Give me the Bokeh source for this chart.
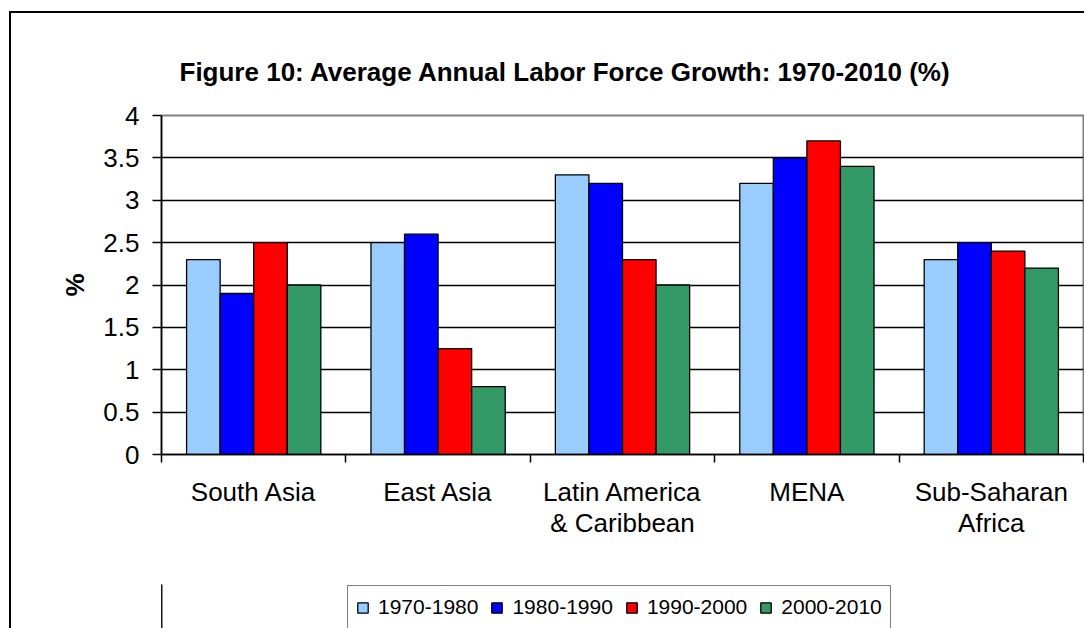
from bokeh.plotting import figure
from bokeh.layouts import column
from bokeh.models import (ColumnDataSource, Range1d, FixedTicker,
                          Legend, LegendItem, Title)
from bokeh.transform import dodge
from bokeh.embed import file_html
from bokeh.resources import INLINE

# ---------------- data ----------------
regions = ["South Asia", "East Asia", "Latin America\n& Caribbean", "MENA", "Sub-Saharan\nAfrica"]
periods = ["1970-1980", "1980-1990", "1990-2000", "2000-2010"]
v1970 = [2.3, 2.5, 3.3, 3.2, 2.3]
v1980 = [1.9, 2.6, 3.2, 3.5, 2.5]
v1990 = [2.5, 1.25, 2.3, 3.7, 2.4]
v2000 = [2.0, 0.8, 2.0, 3.4, 2.2]
y_ticks = [0, 0.5, 1, 1.5, 2, 2.5, 3, 3.5, 4]
y_tick_labels = ["0", "0.5", "1", "1.5", "2", "2.5", "3", "3.5", "4"]
title_text = "Figure 10: Average Annual Labor Force Growth: 1970-2010 (%)"
y_label = "%"

colors = ["#99CCFF", "#0000FF", "#FF0000", "#339966"]
FONT = "Liberation Sans"

# category slot centres on a numeric axis (slot i spans i..i+1)
centers = [i + 0.5 for i in range(len(regions))]
source = ColumnDataSource(dict(pos=centers, region=regions,
                               a=v1970, b=v1980, c=v1990, d=v2000))

p = figure(width=1073, height=571,
           x_range=Range1d(0, len(regions)), y_range=Range1d(0, 4),
           output_backend="svg", toolbar_location=None,
           min_border_left=150, min_border_right=1,
           min_border_top=102, min_border_bottom=130)

bw = 0.182
offsets = [-1.5 * bw, -0.5 * bw, 0.5 * bw, 1.5 * bw]
for col, off, c in zip(["a", "b", "c", "d"], offsets, colors):
    p.vbar(x=dodge("pos", off), top=col, width=bw, source=source,
           fill_color=c, line_color="black", line_width=1.3)

# axes
p.xgrid.visible = False
p.ygrid.ticker = FixedTicker(ticks=[t for t in y_ticks if 0 < t < 4])
p.ygrid.grid_line_color = "black"
p.ygrid.grid_line_width = 1.5

xa = p.xaxis[0]
xa.ticker = FixedTicker(ticks=centers, minor_ticks=list(range(len(regions) + 1)))
xa.major_label_overrides = {c: name for c, name in zip(centers, regions)}
xa.major_tick_line_color = None
xa.major_tick_out = 0
xa.major_tick_in = 0
xa.minor_tick_out = 8
xa.minor_tick_in = 0
xa.minor_tick_line_color = "black"
xa.minor_tick_line_width = 1.5
xa.axis_line_color = "black"
xa.axis_line_width = 1.5
xa.major_label_text_font = FONT
xa.major_label_text_font_size = "26px"
xa.major_label_text_color = "black"
xa.major_label_text_line_height = 1.05
xa.major_label_standoff = 14

ya = p.yaxis[0]
ya.ticker = FixedTicker(ticks=y_ticks)
ya.major_label_overrides = {t: s for t, s in zip(y_ticks, y_tick_labels)}
ya.minor_tick_line_color = None
ya.major_tick_out = 9
ya.major_tick_in = 0
ya.major_tick_line_color = "black"
ya.major_tick_line_width = 1.5
ya.axis_line_color = "black"
ya.axis_line_width = 1.5
ya.major_label_text_font = FONT
ya.major_label_text_font_size = "26px"
ya.major_label_text_color = "black"
ya.major_label_standoff = 13
ya.axis_label = y_label
ya.axis_label_text_font = FONT
ya.axis_label_text_font_size = "26px"
ya.axis_label_text_font_style = "bold"
ya.axis_label_text_color = "black"
ya.axis_label_standoff = 10

p.outline_line_color = "#808080"
p.outline_line_width = 2

# title
p.title = Title(text=title_text, align="left", offset=18, standoff=57,
                text_font=FONT, text_font_size="26px", text_font_style="bold",
                text_color="black")

# legend strip (separate small plot directly below the chart)
q = figure(width=1073, height=44, x_range=Range1d(0, 1), y_range=Range1d(0, 1),
           output_backend="svg", toolbar_location=None,
           x_axis_location=None, y_axis_location=None,
           min_border_left=0, min_border_right=0, min_border_top=0, min_border_bottom=0)
q.grid.visible = False
q.outline_line_color = None
# one off-screen swatch per series, only so that the legend can draw its keys
swatch = ColumnDataSource(dict(x=[-10.0], top=[1.0]))
legend_renderers = [q.vbar(x="x", top="top", width=0.1, source=swatch,
                           fill_color=c, line_color="black", line_width=1.3)
                    for c in colors]
legend = Legend(items=[LegendItem(label=lab, renderers=[r], index=0)
                       for lab, r in zip(periods, legend_renderers)],
                orientation="horizontal", location=(186, -1), margin=0,
                label_text_font=FONT, label_text_font_size="21px", label_text_color="black",
                glyph_width=13, glyph_height=13, label_standoff=9, spacing=12,
                padding=8, label_height=26,
                border_line_color="black", border_line_width=1.5,
                background_fill_color="white", background_fill_alpha=1)
q.add_layout(legend, "center")

layout = column(p, q, spacing=0,
                styles={"margin-left": "9px", "margin-top": "11px",
                        "border-left": "2px solid black", "border-top": "2px solid black"})

open("out.html", "w").write(file_html(layout, INLINE))
